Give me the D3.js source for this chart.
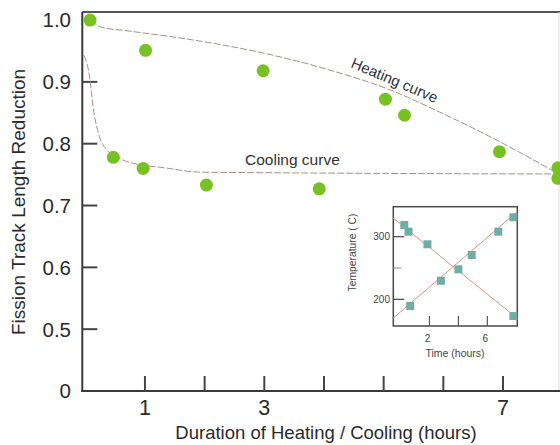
<!DOCTYPE html>
<html>
<head>
<meta charset="utf-8">
<script src="https://cdn.jsdelivr.net/npm/d3@7"></script>
<style>
  body { margin: 0; background: #fff; }
  text { font-family: "Liberation Sans", Arial, sans-serif; }
</style>
</head>
<body>
<svg id="chart" width="560" height="445"></svg>
<script>
// ---- Main chart data ----
const heatX = [0.08, 1.01, 2.98, 5.03, 5.35, 6.94, 7.92];
const heatY = [1.0, 0.951, 0.918, 0.872, 0.846, 0.787, 0.761];
const coolX = [0.47, 0.97, 2.03, 3.92, 7.92];
const coolY = [0.778, 0.760, 0.733, 0.727, 0.744];

const heatCurveX = [0.10, 0.25, 0.75, 1.59, 3.15, 4.10, 5.11, 5.94, 6.83, 7.84];
const heatCurveY = [1.000, 0.989, 0.982, 0.971, 0.943, 0.919, 0.887, 0.851, 0.809, 0.756];
const coolCurveX = [-0.02, 0.08, 0.13, 0.22, 0.36, 0.58, 0.97, 1.25, 1.92, 3.15, 7.9];
const coolCurveY = [0.943, 0.903, 0.860, 0.817, 0.790, 0.776, 0.765, 0.762, 0.754, 0.753, 0.751];

const xTickValues = [1, 2, 3, 4, 5, 6, 7];
const xTickLabels = ["1", "", "3", "", "", "", "7"];
const yTickValues = [0.4, 0.5, 0.6, 0.7, 0.8, 0.9, 1.0];
const yTickLabels = ["0", "0.5", "0.6", "0.7", "0.8", "0.9", "1.0"];
const yTickMarks = [0.5, 0.6, 0.7, 0.8, 0.9];

// ---- Inset data ----
const insetCoolX = [0.26, 0.55, 1.86, 4.0, 7.8];
const insetCoolY = [318.7, 308, 287.9, 247.9, 173.3];
const insetHeatX = [0.67, 2.79, 4.92, 6.76, 7.8];
const insetHeatY = [189.3, 229.7, 270.8, 308, 331];
const insetCoolLineX = [-0.5, 8.07];
const insetCoolLineY = [329.4, 169.6];
const insetHeatLineX = [-0.5, 8.07];
const insetHeatLineY = [170, 340];
const insetXTicks = [2, 4, 6];
const insetXLabels = ["2", "", "6"];
const insetYTicks = [200, 250, 300];
const insetYLabels = ["200", "", "300"];

const svg = d3.select("#chart");

const x = d3.scaleLinear().domain([-0.05, 7.95]).range([82.3, 559.7]);
const y = d3.scaleLinear().domain([0.4, 1.013]).range([391, 12]);

const axisColor = "#3a3a3a";

// plot frame: top border and faint right border
svg.append("line").attr("x1", x(-0.05)).attr("x2", 562).attr("y1", y(1.013)).attr("y2", y(1.013))
  .attr("stroke", "#555").attr("stroke-width", 2);
svg.append("line").attr("x1", 559).attr("x2", 559).attr("y1", y(1.013)).attr("y2", y(0.4))
  .attr("stroke", "#ddd").attr("stroke-width", 1);

// left axis
svg.append("line").attr("x1", x(-0.05)).attr("x2", x(-0.05)).attr("y1", y(1.013)).attr("y2", y(0.4) + 1)
  .attr("stroke", axisColor).attr("stroke-width", 2);
// bottom axis
svg.append("line").attr("x1", x(-0.05) - 1).attr("x2", 562).attr("y1", y(0.4)).attr("y2", y(0.4))
  .attr("stroke", axisColor).attr("stroke-width", 2);

// y ticks (inward)
svg.selectAll(".ytick").data(yTickMarks).enter().append("line")
  .attr("x1", x(-0.05)).attr("x2", x(-0.05) + 15)
  .attr("y1", d => y(d)).attr("y2", d => y(d))
  .attr("stroke", "#444").attr("stroke-width", 2);
svg.selectAll(".ylab").data(yTickValues).enter().append("text")
  .attr("x", 71).attr("y", d => y(d)).attr("dy", "0.36em")
  .attr("text-anchor", "end").attr("font-size", 20.5).attr("fill", "#2b2b2b")
  .text((d, i) => yTickLabels[i]);

// x ticks (inward)
svg.selectAll(".xtick").data(xTickValues).enter().append("line")
  .attr("x1", d => x(d)).attr("x2", d => x(d))
  .attr("y1", y(0.4)).attr("y2", y(0.4) - 15)
  .attr("stroke", "#444").attr("stroke-width", 2);
svg.selectAll(".xlab").data(xTickValues).enter().append("text")
  .attr("x", d => x(d)).attr("y", 415)
  .attr("text-anchor", "middle").attr("font-size", 21.5).attr("fill", "#2b2b2b")
  .text((d, i) => xTickLabels[i]);

// axis titles
svg.append("text").attr("x", 326).attr("y", 439).attr("text-anchor", "middle")
  .attr("font-size", 18.5).attr("fill", "#2b2b2b")
  .text("Duration of Heating / Cooling (hours)");
svg.append("text").attr("transform", "translate(25,202) rotate(-90)").attr("text-anchor", "middle")
  .attr("font-size", 19).attr("fill", "#2b2b2b")
  .text("Fission Track Length Reduction");

// curves
const line = d3.line().x(d => x(d[0])).y(d => y(d[1])).curve(d3.curveMonotoneX);
svg.append("path").datum(heatCurveX.map((v, i) => [v, heatCurveY[i]]))
  .attr("d", line).attr("fill", "none").attr("stroke", "#9c7a74").attr("stroke-width", 1)
  .attr("stroke-dasharray", "7,2").attr("opacity", 0.85);
svg.append("path").datum(coolCurveX.map((v, i) => [v, coolCurveY[i]]))
  .attr("d", line).attr("fill", "none").attr("stroke", "#9c7a74").attr("stroke-width", 1)
  .attr("stroke-dasharray", "7,2").attr("opacity", 0.85);

// curve labels
svg.append("text").attr("transform", "translate(350,67) rotate(23)")
  .attr("font-size", 15).attr("fill", "#333").text("Heating curve");
svg.append("text").attr("x", 245).attr("y", 165)
  .attr("font-size", 15.5).attr("fill", "#333").text("Cooling curve");

// points
const green = "#78c124";
svg.selectAll(".hp").data(heatX).enter().append("circle")
  .attr("cx", d => x(d)).attr("cy", (d, i) => y(heatY[i])).attr("r", 6.5).attr("fill", green);
svg.selectAll(".cp").data(coolX).enter().append("circle")
  .attr("cx", d => x(d)).attr("cy", (d, i) => y(coolY[i])).attr("r", 6.5).attr("fill", green);

// ---- Inset ----
const ix = d3.scaleLinear().domain([-0.5, 8.07]).range([393.3, 517.3]);
const iy = d3.scaleLinear().domain([157.4, 347.9]).range([326, 206.7]);
const inset = svg.append("g");
inset.append("rect").attr("x", ix(-0.5)).attr("y", iy(347.9))
  .attr("width", ix(8.07) - ix(-0.5)).attr("height", iy(157.4) - iy(347.9))
  .attr("fill", "#fff").attr("stroke", "#4a4a4a").attr("stroke-width", 1.5);

inset.selectAll(".iyt").data(insetYTicks).enter().append("line")
  .attr("x1", ix(-0.5)).attr("x2", (d, i) => ix(-0.5) + (insetYLabels[i] ? 11 : 8))
  .attr("y1", d => iy(d)).attr("y2", d => iy(d))
  .attr("stroke", (d, i) => insetYLabels[i] ? "#444" : "#999").attr("stroke-width", 1.2);
inset.selectAll(".iyl").data(insetYTicks).enter().append("text")
  .attr("x", 390).attr("y", d => iy(d)).attr("dy", "0.35em").attr("text-anchor", "end")
  .attr("font-size", 10).attr("fill", "#444").text((d, i) => insetYLabels[i]);
inset.selectAll(".ixt").data(insetXTicks).enter().append("line")
  .attr("x1", d => ix(d)).attr("x2", d => ix(d))
  .attr("y1", iy(157.4)).attr("y2", iy(157.4) - 10)
  .attr("stroke", "#555").attr("stroke-width", 1.2);
inset.selectAll(".ixl").data(insetXTicks).enter().append("text")
  .attr("x", d => ix(d) - 2).attr("y", 342).attr("text-anchor", "middle")
  .attr("font-size", 10).attr("fill", "#444").text((d, i) => insetXLabels[i]);
inset.append("text").attr("x", 455).attr("y", 357).attr("text-anchor", "middle")
  .attr("font-size", 10.5).attr("fill", "#444").text("Time (hours)");
inset.append("text").attr("transform", "translate(356,252.5) rotate(-90)").attr("text-anchor", "middle")
  .attr("font-size", 10.3).attr("fill", "#444").text("Temperature ( C)");

const iline = d3.line().x(d => ix(d[0])).y(d => iy(d[1]));
inset.append("path").datum(insetCoolLineX.map((v, i) => [v, insetCoolLineY[i]]))
  .attr("d", iline).attr("stroke", "#d8957c").attr("stroke-width", 1).attr("fill", "none");
inset.append("path").datum(insetHeatLineX.map((v, i) => [v, insetHeatLineY[i]]))
  .attr("d", iline).attr("stroke", "#d8957c").attr("stroke-width", 1).attr("fill", "none");

const teal = "#6fada5";
const sq = 8;
inset.selectAll(".ics").data(insetCoolX).enter().append("rect")
  .attr("x", d => ix(d) - sq / 2).attr("y", (d, i) => iy(insetCoolY[i]) - sq / 2)
  .attr("width", sq).attr("height", sq).attr("fill", teal);
inset.selectAll(".ihs").data(insetHeatX).enter().append("rect")
  .attr("x", d => ix(d) - sq / 2).attr("y", (d, i) => iy(insetHeatY[i]) - sq / 2)
  .attr("width", sq).attr("height", sq).attr("fill", teal);
</script>
</body>
</html>
